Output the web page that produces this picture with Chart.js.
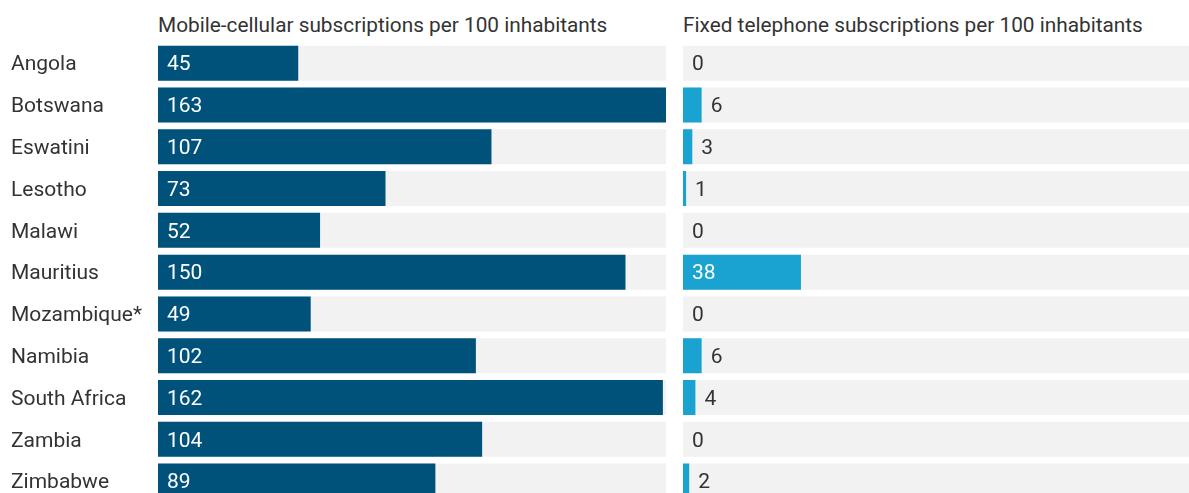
<!DOCTYPE html>
<html>
<head>
<meta charset="utf-8">
<script src="https://cdn.jsdelivr.net/npm/chart.js@4.4.1/dist/chart.umd.min.js"></script>
<style>
  body { margin: 0; background: #fff; overflow: hidden; font-family: Roboto, sans-serif; }
  .wrap { position: relative; width: 1189px; height: 493px; overflow: hidden; }
  .title { position: absolute; top: 13px; font-size: 20.8px; line-height: 24px; color: #333; white-space: nowrap; }
  canvas { position: absolute; top: 0; }
</style>
</head>
<body>
<div class="wrap">
  <div class="title" style="left:158px">Mobile-cellular subscriptions per 100 inhabitants</div>
  <div class="title" style="left:683px">Fixed telephone subscriptions per 100 inhabitants</div>
  <canvas id="mobileChart" width="666" height="502" style="left:0"></canvas>
  <canvas id="fixedChart" width="506" height="502" style="left:683px"></canvas>
</div>
<script>
const countries = ['Angola', 'Botswana', 'Eswatini', 'Lesotho', 'Malawi', 'Mauritius',
  'Mozambique*', 'Namibia', 'South Africa', 'Zambia', 'Zimbabwe'];
const mobile = [45, 163, 107, 73, 52, 150, 49, 102, 162, 104, 89];
const fixed = [0, 6, 3, 1, 0, 38, 0, 6, 4, 0, 2];
const X_MAX = 163;

const FONT = { family: 'Roboto, sans-serif', size: 21 };
const TEXT = '#333333';

// country names, left-aligned in the reserved y-axis strip
const countryLabels = {
  id: 'countryLabels',
  afterDraw(chart) {
    const y = chart.scales.y;
    if (!y.options.display) return;
    const ctx = chart.ctx;
    ctx.save();
    ctx.font = `${FONT.size}px ${FONT.family}`;
    ctx.textBaseline = 'middle';
    ctx.textAlign = 'left';
    ctx.fillStyle = TEXT;
    chart.data.labels.forEach((lbl, i) => {
      ctx.fillText(lbl, y.left, y.getPixelForValue(i) + 2);
    });
    ctx.restore();
  }
};

// value text: white inside the bar when it fits, dark just past the bar otherwise
const valueLabels = {
  id: 'valueLabels',
  afterDatasetsDraw(chart) {
    const ctx = chart.ctx;
    const meta = chart.getDatasetMeta(0);
    const vals = chart.data.datasets[0].data;
    const base = chart.scales.x.getPixelForValue(0);
    ctx.save();
    ctx.font = `${FONT.size}px ${FONT.family}`;
    ctx.textBaseline = 'middle';
    ctx.textAlign = 'left';
    meta.data.forEach((bar, i) => {
      const txt = String(vals[i]);
      const w = ctx.measureText(txt).width;
      const barW = bar.x - base;
      if (barW >= w + 18) {
        ctx.fillStyle = '#ffffff';
        ctx.fillText(txt, base + 9, bar.y + 2);
      } else {
        ctx.fillStyle = TEXT;
        ctx.fillText(txt, bar.x + 9, bar.y + 2);
      }
    });
    ctx.restore();
  }
};

function makeChart(id, values, color, showLabels) {
  const yScale = {
    display: showLabels,
    grid: { display: false },
    border: { display: false },
    ticks: { display: false }
  };
  if (showLabels) yScale.afterFit = (scale) => { scale.width = 147; };

  return new Chart(document.getElementById(id).getContext('2d'), {
    type: 'bar',
    data: {
      labels: countries,
      datasets: [
        { data: values, backgroundColor: color, order: 1, grouped: false,
          barPercentage: 1, categoryPercentage: 0.837 },
        { data: countries.map(() => X_MAX), backgroundColor: '#f2f2f2', order: 2, grouped: false,
          barPercentage: 1, categoryPercentage: 0.837 }
      ]
    },
    options: {
      indexAxis: 'y',
      responsive: false,
      animation: false,
      layout: { padding: { top: 42.3, bottom: 0, left: showLabels ? 11 : 0, right: 0 } },
      plugins: { legend: { display: false }, tooltip: { enabled: false } },
      scales: {
        x: { display: false, min: 0, max: X_MAX },
        y: yScale
      }
    },
    plugins: [valueLabels, countryLabels]
  });
}

makeChart('mobileChart', mobile, '#00527b', true);
makeChart('fixedChart', fixed, '#1aa3d0', false);
</script>
</body>
</html>
